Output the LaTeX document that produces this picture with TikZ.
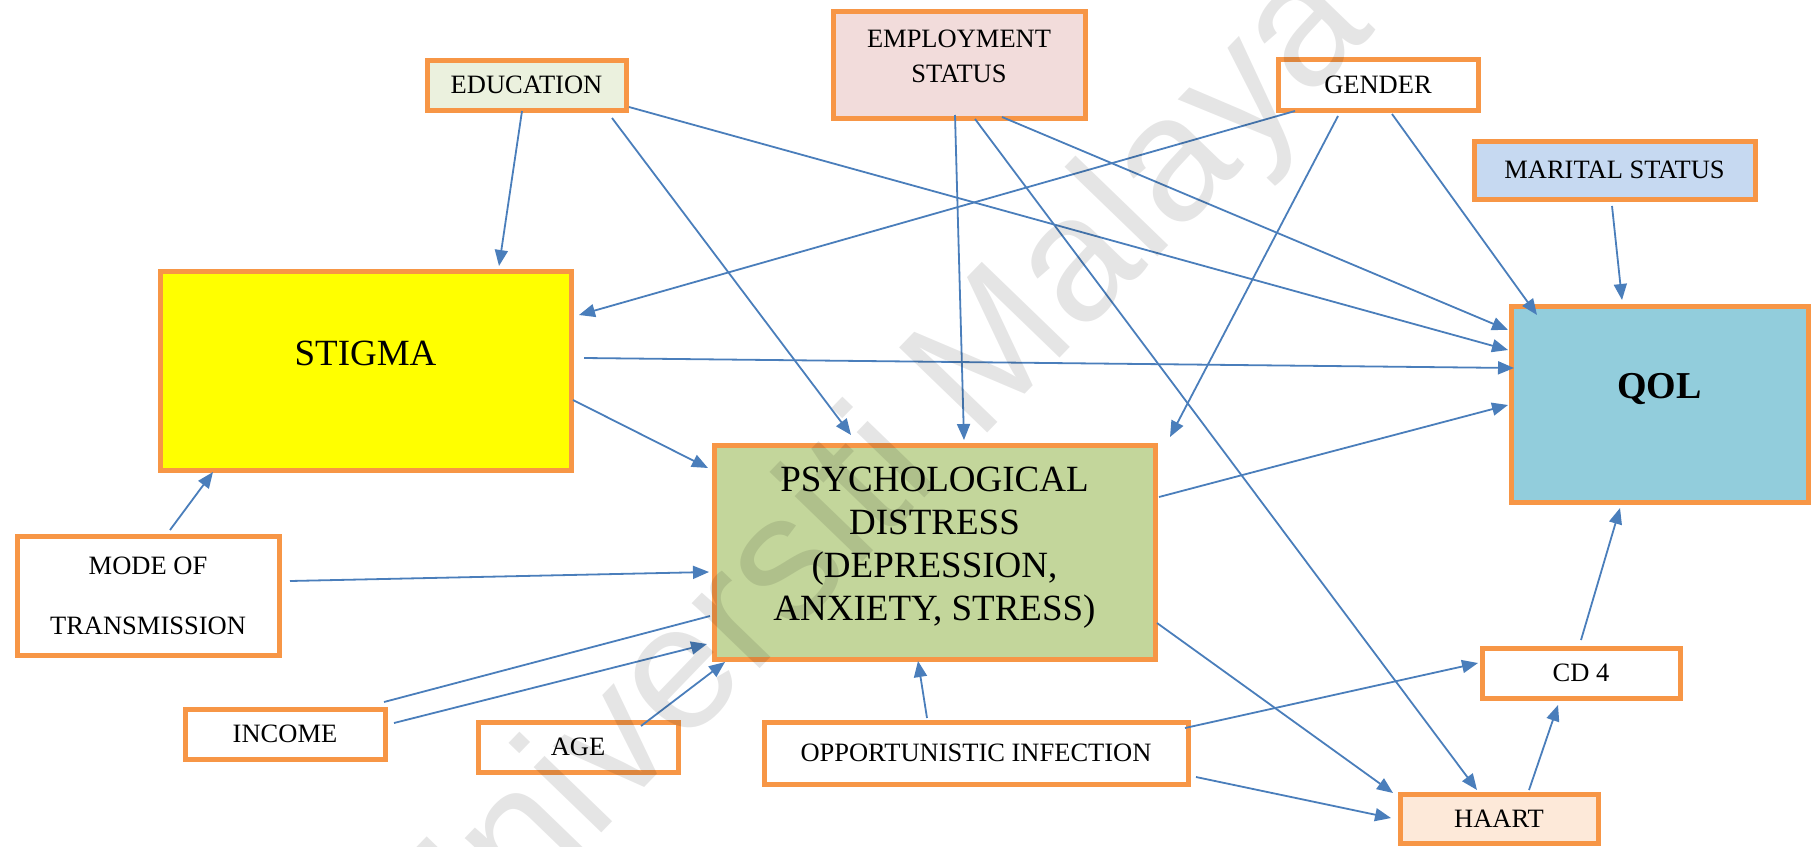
\documentclass[tikz,border=0pt]{standalone}
\usepackage{fontspec}
\setmainfont{Liberation Serif}
\newfontfamily\wmfont{Liberation Sans}
\usetikzlibrary{arrows.meta,calc}

\definecolor{boxorange}{HTML}{F79646}
\definecolor{linkblue}{HTML}{4A7EBB}
\definecolor{eduFill}{HTML}{EBF1DE}
\definecolor{empFill}{HTML}{F2DCDB}
\definecolor{marFill}{HTML}{C6D9F1}
\definecolor{stigFill}{HTML}{FFFF00}
\definecolor{qolFill}{HTML}{92CDDC}
\definecolor{psyFill}{HTML}{C3D69B}
\definecolor{haartFill}{HTML}{FDE9D9}

\begin{document}
\begin{tikzpicture}[x=1pt,y=-1pt,
  var/.style={draw=boxorange, line width=5pt, rectangle, inner sep=0pt,
    outer sep=0pt, align=center, fill=white,
    font=\fontsize{26.5}{32}\selectfont},
  big/.style={font=\fontsize{37}{43}\selectfont, align=center},
  link/.style={draw=linkblue, line width=1.8pt,
    -{Triangle[length=16pt,width=13pt]}},
  plainlink/.style={draw=linkblue, line width=1.8pt},
]
\useasboundingbox (0,0) rectangle (1811,846);

% factor boxes
\node[var, fill=eduFill, minimum width=199pt, minimum height=50pt] (edu) at (526.5,85) {EDUCATION};
\node[var, fill=empFill, minimum width=252pt, minimum height=107pt,
  label={[name=emptxt, align=center, font=\fontsize{26.5}{35}\selectfont, yshift=8pt]center:EMPLOYMENT\\STATUS}] (emp) at (959,64.5) {};
\node[var, minimum width=200pt, minimum height=51pt] (gen) at (1378,84.5) {GENDER};
\node[var, fill=marFill, minimum width=281pt, minimum height=58pt] (mar) at (1614.5,170) {MARITAL STATUS};
\node[var, fill=stigFill, minimum width=411pt, minimum height=199pt,
  label={[name=stigtxt, big, yshift=17.5pt]center:STIGMA}] (stig) at (365.5,370.5) {};
\node[var, fill=qolFill, minimum width=297pt, minimum height=196pt,
  label={[name=qoltxt, font=\fontsize{38}{43}\selectfont\bfseries, yshift=15pt]center:QOL}] (qol) at (1659.5,404) {};
\node[var, fill=psyFill, minimum width=441pt, minimum height=214pt,
  label={[name=psytxt, big, yshift=4.5pt]center:PSYCHOLOGICAL\\DISTRESS\\(DEPRESSION,\\ANXIETY, STRESS)}] (psy) at (934.5,552) {};
\node[var, minimum width=262pt, minimum height=119pt,
  font=\fontsize{26.5}{60}\selectfont] (mode) at (148,595.5) {MODE OF\\TRANSMISSION};
\node[var, minimum width=200pt, minimum height=50pt] (inc) at (285,734) {INCOME};
\node[var, minimum width=200pt, minimum height=50pt] (age) at (578,747) {AGE};
\node[var, minimum width=424pt, minimum height=62pt] (opp) at (976,753) {OPPORTUNISTIC INFECTION};
\node[var, minimum width=198pt, minimum height=50pt] (cd4) at (1581,673) {CD 4};
\node[var, fill=haartFill, minimum width=198pt, minimum height=49pt] (haart) at (1499,818.5) {HAART};

% paths between factors
\draw[link] ($(edu.north west)+(95,51)$) -- ($(stig.north west)+(339,-5)$);
\draw[link] ($(edu.north west)+(185,58)$) -- ($(psy.north west)+(137,-10)$);
\draw[link] ($(edu.north west)+(202,47)$) -- ($(qol.north west)+(-3,44)$);

\draw[link] ($(emp.north west)+(122,104)$) -- ($(psy.north west)+(250,-5)$);
\draw[link] ($(emp.north west)+(142,108)$) -- ($(haart.north west)+(77,-4)$);
\draw[link] ($(emp.north west)+(169,106)$) -- ($(qol.north west)+(-3,24)$);

\draw[link] ($(gen.north west)+(17,52)$) -- ($(stig.north west)+(419,44)$);
\draw[link] ($(gen.north west)+(60,57)$) -- ($(psy.north west)+(456,-8)$);
\draw[link] ($(gen.north west)+(114,55)$) -- ($(qol.north west)+(26,9)$);

\draw[link] ($(mar.north west)+(138,65)$) -- ($(qol.north west)+(111,-6)$);

\draw[link] ($(stig.north west)+(424,87)$) -- ($(qol.north west)+(3,62)$);
\draw[link] ($(stig.north west)+(413,129)$) -- ($(psy.north west)+(-6,23)$);

\draw[link] ($(mode.north west)+(153,-6)$) -- ($(stig.north west)+(53,201)$);
\draw[link] ($(mode.north west)+(273,45)$) -- ($(psy.north west)+(-5,127)$);

\draw[plainlink] ($(psy.north west)+(-4,171)$) -- ($(inc.north west)+(199,-7)$);
\draw[link] ($(inc.north west)+(209,14)$) -- ($(psy.north west)+(-7,199)$);

\draw[link] ($(age.north west)+(163,4)$) -- ($(psy.north west)+(11,217)$);

\draw[link] ($(opp.north west)+(163,-4)$) -- ($(psy.north west)+(204,216)$);
\draw[link] ($(opp.north west)+(421,6)$) -- ($(cd4.north west)+(-4,15)$);
\draw[link] ($(opp.north west)+(432,55)$) -- ($(haart.north west)+(-9,24)$);

\draw[link] ($(psy.north west)+(443,178)$) -- ($(haart.north west)+(-7,-1)$);
\draw[link] ($(psy.north west)+(445,52)$) -- ($(qol.north west)+(-3,99)$);

\draw[link] ($(haart.north west)+(129,-4)$) -- ($(cd4.north west)+(76,57)$);
\draw[link] ($(cd4.north west)+(99,-8)$) -- ($(qol.north west)+(109,202)$);

% watermark across the page
\node[rotate=46, anchor=base west, inner sep=0pt,
  font=\wmfont\fontsize{178}{178}\selectfont, text=black,
  opacity=0.1, text opacity=0.1] (wm) at (435,1005) {Universiti Malaya};
\end{tikzpicture}
\end{document}
